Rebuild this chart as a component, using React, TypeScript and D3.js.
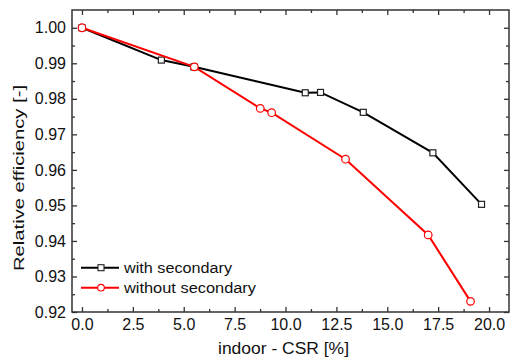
import { useEffect, useRef } from 'react';
import * as d3 from 'd3';

// with secondary (black squares)
const withX = [0, 3.9, 5.5, 10.97, 11.72, 13.82, 17.24, 19.63];
const withY = [1.0, 0.9909, 0.989, 0.9817, 0.9818, 0.9762, 0.9648, 0.9503];

// without secondary (red circles)
const withoutX = [0, 5.52, 8.76, 9.32, 12.95, 17.01, 19.09];
const withoutY = [1.0, 0.989, 0.9773, 0.9761, 0.963, 0.9417, 0.923];

const xTicks = [0, 2.5, 5, 7.5, 10, 12.5, 15, 17.5, 20];
const yTicks = [0.92, 0.93, 0.94, 0.95, 0.96, 0.97, 0.98, 0.99, 1.0];

const seriesNames = ['with secondary', 'without secondary'];

export default function App() {
  const svgRef = useRef<SVGSVGElement>(null);

  useEffect(() => {
    if (!svgRef.current) return;
    const width = 510;
    const height = 361;
    const svg = d3.select(svgRef.current);
    svg.selectAll('*').remove();
    svg.attr('width', width).attr('height', height);

    const left = 72, right = 509, top = 10, bottom = 312;
    const font = "'Liberation Sans', Arial, sans-serif";
    const axisColor = '#333';

    const x = d3.scaleLinear().domain([-0.49, 20.98]).range([left, right]);
    const y = d3.scaleLinear().domain([0.92, 1.005]).range([bottom, top]);

    const xMinor = d3.range(0, 21.25, 1.25).filter((v) => !xTicks.includes(v));
    const yMinor = d3.range(0.925, 1.0, 0.01).map((v) => +v.toFixed(3));

    // frame
    svg.append('rect')
      .attr('x', left).attr('y', top)
      .attr('width', right - left).attr('height', bottom - top)
      .attr('fill', 'none').attr('stroke', axisColor).attr('stroke-width', 1.5);

    const styleAxis = (g: d3.Selection<SVGGElement, unknown, null, undefined>) => {
      g.select('.domain').remove();
      g.selectAll('.tick line').attr('stroke', axisColor).attr('stroke-width', 1.3);
      g.selectAll('text').attr('fill', '#111').attr('font-family', font).attr('font-size', 16);
    };

    // bottom axis with labels
    svg.append('g').attr('transform', `translate(0,${bottom})`)
      .call(d3.axisBottom(x).tickValues(xTicks).tickSize(-5).tickPadding(7).tickFormat(d3.format('.1f')))
      .call(styleAxis);
    svg.append('g').attr('transform', `translate(0,${bottom})`)
      .call(d3.axisBottom(x).tickValues(xMinor).tickSize(-3).tickFormat(() => ''))
      .call(styleAxis);
    // top mirror
    svg.append('g').attr('transform', `translate(0,${top})`)
      .call(d3.axisTop(x).tickValues(xTicks).tickSize(-5).tickFormat(() => ''))
      .call(styleAxis);
    svg.append('g').attr('transform', `translate(0,${top})`)
      .call(d3.axisTop(x).tickValues(xMinor).tickSize(-3).tickFormat(() => ''))
      .call(styleAxis);

    // left axis with labels
    svg.append('g').attr('transform', `translate(${left},0)`)
      .call(d3.axisLeft(y).tickValues(yTicks).tickSize(-5).tickPadding(6).tickFormat(d3.format('.2f')))
      .call(styleAxis);
    svg.append('g').attr('transform', `translate(${left},0)`)
      .call(d3.axisLeft(y).tickValues(yMinor).tickSize(-3).tickFormat(() => ''))
      .call(styleAxis);
    // right mirror
    svg.append('g').attr('transform', `translate(${right},0)`)
      .call(d3.axisRight(y).tickValues(yTicks).tickSize(-5).tickFormat(() => ''))
      .call(styleAxis);
    svg.append('g').attr('transform', `translate(${right},0)`)
      .call(d3.axisRight(y).tickValues(yMinor).tickSize(-3).tickFormat(() => ''))
      .call(styleAxis);

    // axis labels
    svg.append('text')
      .attr('x', 283.5).attr('y', 354)
      .attr('text-anchor', 'middle')
      .attr('font-family', font).attr('font-size', 16)
      .attr('textLength', 131).attr('lengthAdjust', 'spacingAndGlyphs')
      .attr('fill', '#111')
      .text('indoor - CSR [%]');

    svg.append('text')
      .attr('transform', 'translate(23.5,178) rotate(-90)')
      .attr('text-anchor', 'middle')
      .attr('font-family', font).attr('font-size', 15.5)
      .attr('textLength', 186).attr('lengthAdjust', 'spacingAndGlyphs')
      .attr('fill', '#111')
      .text('Relative efficiency [-]');

    const line = d3.line<[number, number]>().x((d) => x(d[0])).y((d) => y(d[1]));
    const blackPts = withX.map((v, i) => [v, withY[i]] as [number, number]);
    const redPts = withoutX.map((v, i) => [v, withoutY[i]] as [number, number]);

    // black series
    svg.append('path').datum(blackPts)
      .attr('fill', 'none').attr('stroke', '#000').attr('stroke-width', 2).attr('d', line);
    svg.append('g').selectAll('rect').data(blackPts).enter().append('rect')
      .attr('x', (d) => x(d[0]) - 3).attr('y', (d) => y(d[1]) - 3)
      .attr('width', 6).attr('height', 6)
      .attr('fill', '#fff').attr('stroke', '#222').attr('stroke-width', 1.2);

    // red series
    svg.append('path').datum(redPts)
      .attr('fill', 'none').attr('stroke', '#ff0000').attr('stroke-width', 2).attr('d', line);
    svg.append('g').selectAll('circle').data(redPts).enter().append('circle')
      .attr('cx', (d) => x(d[0])).attr('cy', (d) => y(d[1]))
      .attr('r', 3.8)
      .attr('fill', '#fff').attr('stroke', '#ff0000').attr('stroke-width', 1.2);

    // legend
    const legendRows = [267.7, 287.7];
    seriesNames.forEach((name, i) => {
      const cy = legendRows[i];
      const color = i === 0 ? '#000' : '#ff0000';
      svg.append('line')
        .attr('x1', 81).attr('x2', 119).attr('y1', cy).attr('y2', cy)
        .attr('stroke', color).attr('stroke-width', 2);
      if (i === 0) {
        svg.append('rect')
          .attr('x', 98).attr('y', cy - 3).attr('width', 6).attr('height', 6)
          .attr('fill', '#fff').attr('stroke', '#222').attr('stroke-width', 1.1);
      } else {
        svg.append('circle')
          .attr('cx', 101).attr('cy', cy).attr('r', 3.3)
          .attr('fill', '#fff').attr('stroke', '#ff0000').attr('stroke-width', 1.1);
      }
      svg.append('text')
        .attr('x', 124).attr('y', cy + 5.5)
        .attr('font-family', font).attr('font-size', 15.5)
        .attr('textLength', i === 0 ? 108 : 132).attr('lengthAdjust', 'spacingAndGlyphs')
        .attr('fill', '#111')
        .text(name);
    });
  }, []);

  return <svg ref={svgRef} style={{ position: 'absolute', left: 0, top: 0, background: '#fff' }} />;
}
